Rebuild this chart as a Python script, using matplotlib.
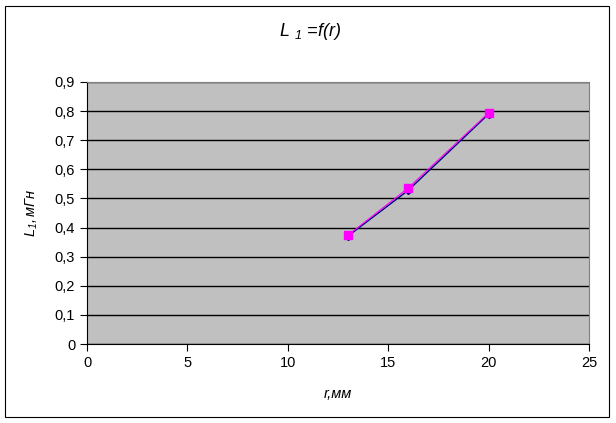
import matplotlib
matplotlib.use("Agg")
import matplotlib.pyplot as plt
from matplotlib.patches import Rectangle
from matplotlib.ticker import FuncFormatter

plt.rcParams['font.family'] = ['Liberation Sans', 'DejaVu Sans']
plt.rcParams['mathtext.fontset'] = 'custom'
plt.rcParams['mathtext.it'] = 'Liberation Sans:italic'
plt.rcParams['mathtext.rm'] = 'Liberation Sans:italic'

# data
r_mm = [13, 16, 20]
L1_a = [0.371, 0.528, 0.790]   # navy, diamonds
L1_b = [0.374, 0.536, 0.794]   # magenta, squares

x_ticks = [0, 5, 10, 15, 20, 25]
y_ticks = [0, 0.1, 0.2, 0.3, 0.4, 0.5, 0.6, 0.7, 0.8, 0.9]

fig = plt.figure(figsize=(6.16, 4.23), dpi=100)
fig.patches.append(Rectangle((5 / 616, 6 / 423), 604 / 616, 411 / 423,
                             transform=fig.transFigure, fill=False,
                             edgecolor='black', linewidth=0.8))

ax = fig.add_axes([87 / 616, 1 - 344 / 423, 502 / 616, 262 / 423])
ax.set_facecolor('#C0C0C0')
ax.set_xlim(0, 25)
ax.set_ylim(0, 0.9)
ax.set_xticks(x_ticks)
ax.set_yticks(y_ticks)
ax.yaxis.set_major_formatter(FuncFormatter(lambda v, p: ('%g' % round(v, 1)).replace('.', ',')))
ax.yaxis.grid(True, color='black', linewidth=1)
ax.set_axisbelow(True)
for side in ['top', 'right']:
    ax.spines[side].set_color('#808080')
for side in ['left', 'bottom']:
    ax.spines[side].set_color('black')
ax.tick_params(direction='out', length=5, labelsize=10.5, width=0.8)

ax.plot(r_mm, L1_a, color='#000080', marker='D', markersize=4, linewidth=1)
ax.plot(r_mm, L1_b, color='#FF00FF', marker='s', markersize=5.5, linewidth=0.8)

fig.text(310 / 616, 1 - 32 / 423, r'$L\ _1$ =f(r)', ha='center', va='center',
         fontsize=13, style='italic')
fig.text(32 / 616, 1 - 213 / 423, r'$L_1,$мГн', ha='center', va='center',
         fontsize=10.5, style='italic', rotation=90)
fig.text(338 / 616, 1 - 394 / 423, 'r,мм', ha='center', va='center',
         fontsize=10.5, style='italic')

fig.savefig('out.png', dpi=100)
